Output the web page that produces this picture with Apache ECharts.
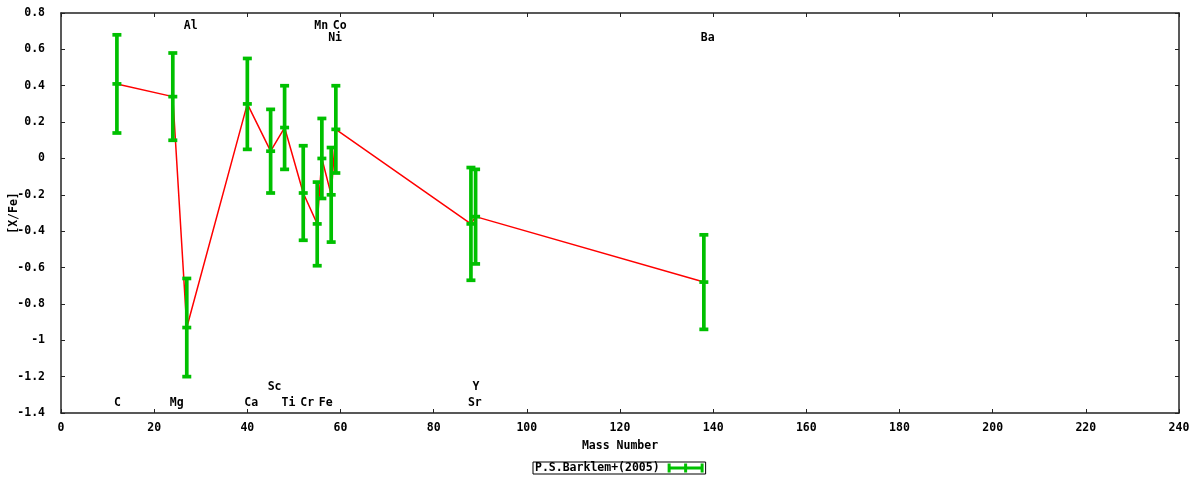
<!DOCTYPE html>
<html>
<head>
<meta charset="utf-8">
<script src="https://cdn.jsdelivr.net/npm/echarts@6/dist/echarts.min.js"></script>
<style>
html,body{margin:0;padding:0;background:#fff;}
#chart{width:1200px;height:480px;}
</style>
</head>
<body>
<div id="chart"></div>
<script>
// ---- data ----
var elements = ['C','Mg','Al','Ca','Sc','Ti','Cr','Mn','Fe','Ni','Co','Sr','Y','Ba'];
var masses   = [12, 24, 27, 40, 45, 48, 52, 55, 56, 58, 59, 88, 89, 138];
var values   = [0.41, 0.34, -0.93, 0.30, 0.04, 0.17, -0.19, -0.36, 0.00, -0.20, 0.16, -0.36, -0.32, -0.68];
var errors   = [0.27, 0.24, 0.27, 0.25, 0.23, 0.23, 0.26, 0.23, 0.22, 0.26, 0.24, 0.31, 0.26, 0.26];
var labelY   = [-1.345, -1.345, 0.73, -1.345, -1.255, -1.345, -1.345, 0.73, -1.345, 0.665, 0.73, -1.345, -1.255, 0.665];
var seriesName = 'P.S.Barklem+(2005)';
var xTicks = {min: 0, max: 240, interval: 20};
var yTicks = {min: -1.4, max: 0.8, interval: 0.2};

var FONT = 'bold 11.5px "DejaVu Sans Mono", monospace';
var GREEN = '#00c000';

var lineData = masses.map(function(m, i){ return [m, values[i]]; });
var errData = masses.map(function(m, i){ return [m, values[i], errors[i]]; });
var labData = masses.map(function(m, i){ return [m, labelY[i], elements[i]]; });

function fmtY(v){
  var r = Math.round(v * 10) / 10;
  if (Math.abs(r) < 1e-9) return '0';
  return String(r);
}

var axisLine = {show: true, onZero: false, lineStyle: {color: '#222', width: 1.5}};
var tickStyle = {show: true, inside: true, length: 4, lineStyle: {color: '#222', width: 1}};
var labelStyle = {color: '#000', fontFamily: 'DejaVu Sans Mono', fontWeight: 'bold', fontSize: 11.5};

var chart = echarts.init(document.getElementById('chart'), null, {renderer: 'canvas'});
chart.setOption({
  animation: false,
  backgroundColor: '#fff',
  grid: {left: 61, right: 21, top: 13, bottom: 67, containLabel: false, outerBoundsMode: 'none'},
  legend: {
    show: true,
    data: [seriesName],
    left: 533, top: 462,
    align: 'right',
    padding: [0, 2, 0, 2],
    itemGap: 0,
    itemWidth: 36, itemHeight: 9,
    borderColor: '#000', borderWidth: 1,
    icon: 'path://M0,0H3V9H0Z M0,3H36V6H0Z M16.5,0H19.5V9H16.5Z M33,0H36V9H33Z',
    textStyle: {color: '#000', fontFamily: 'DejaVu Sans Mono', fontWeight: 'bold', fontSize: 11.5, lineHeight: 12, padding: [0, 3, 0, 0]}
  },
  xAxis: [{
    type: 'value', min: xTicks.min, max: xTicks.max, interval: xTicks.interval,
    position: 'bottom',
    name: 'Mass Number', nameLocation: 'middle', nameGap: 27, nameMoveOverlap: false,
    nameTextStyle: labelStyle,
    axisLine: axisLine, axisTick: tickStyle,
    axisLabel: Object.assign({margin: 9}, labelStyle),
    splitLine: {show: false}
  }, {
    type: 'value', min: xTicks.min, max: xTicks.max, interval: xTicks.interval,
    position: 'top',
    axisLine: axisLine, axisTick: tickStyle,
    axisLabel: {show: false}, splitLine: {show: false}
  }],
  yAxis: [{
    type: 'value', min: yTicks.min, max: yTicks.max, interval: yTicks.interval,
    position: 'left',
    name: '[X/Fe]', nameLocation: 'middle', nameGap: 41, nameRotate: 90, nameMoveOverlap: false,
    nameTextStyle: labelStyle,
    axisLine: axisLine, axisTick: tickStyle,
    axisLabel: Object.assign({margin: 16, formatter: fmtY}, labelStyle),
    splitLine: {show: false}
  }, {
    type: 'value', min: yTicks.min, max: yTicks.max, interval: yTicks.interval,
    position: 'right',
    axisLine: axisLine, axisTick: tickStyle,
    axisLabel: {show: false}, splitLine: {show: false}
  }],
  series: [{
    type: 'line',
    name: 'line',
    data: lineData,
    symbol: 'none',
    lineStyle: {color: '#ff0000', width: 1.5},
    z: 2
  }, {
    type: 'custom',
    name: seriesName,
    data: errData,
    itemStyle: {color: GREEN},
    z: 3,
    renderItem: function(params, api){
      var x = api.value(0), y = api.value(1), e = api.value(2);
      var c = api.coord([x, y]);
      var t = api.coord([x, y + e]);
      var b = api.coord([x, y - e]);
      var hw = 4.5;
      var st = {stroke: GREEN, lineWidth: 3.7};
      return {type: 'group', children: [
        {type: 'line', shape: {x1: t[0], y1: t[1], x2: b[0], y2: b[1]}, style: st},
        {type: 'line', shape: {x1: t[0]-hw, y1: t[1], x2: t[0]+hw, y2: t[1]}, style: st},
        {type: 'line', shape: {x1: b[0]-hw, y1: b[1], x2: b[0]+hw, y2: b[1]}, style: st},
        {type: 'line', shape: {x1: c[0]-hw, y1: c[1], x2: c[0]+hw, y2: c[1]}, style: st}
      ]};
    }
  }, {
    type: 'custom',
    name: 'labels',
    data: labData,
    z: 4,
    renderItem: function(params, api){
      var p = api.coord([api.value(0), api.value(1)]);
      return {type: 'text', x: p[0] - 3, y: p[1], style: {
        text: labData[params.dataIndex][2], font: FONT, fill: '#000',
        align: 'left', verticalAlign: 'middle'
      }};
    }
  }]
});
</script>
</body>
</html>
